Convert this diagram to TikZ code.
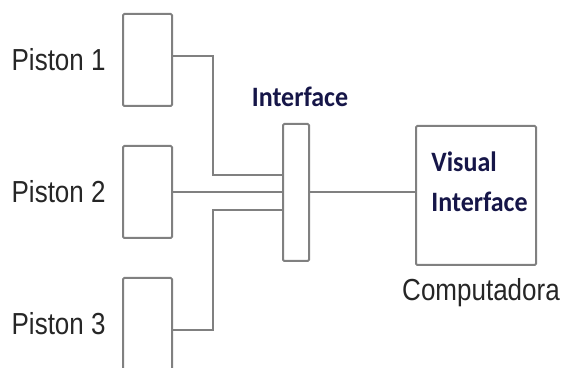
\documentclass[tikz,border=0pt]{standalone}
\usepackage{fontspec}
\setmainfont{Liberation Sans}
\newfontfamily\calibri{Carlito}
\usetikzlibrary{positioning}
\definecolor{linegray}{RGB}{128,128,128}
\definecolor{navytext}{RGB}{22,22,72}
\newcommand{\tallA}[1]{\scalebox{1}[1.17]{#1}}
\newcommand{\tallB}[1]{\scalebox{1}[1.08]{#1}}

\tikzset{
  box/.style={draw=linegray,line width=1pt,rounded corners=0.6pt,inner sep=0pt},
  pistonbox/.style={box,minimum width=24.5pt,minimum height=46pt},
  barbox/.style={box,minimum width=13pt,minimum height=68.5pt},
  compbox/.style={box,minimum width=60pt,minimum height=69.5pt},
  plabel/.style={font=\fontsize{13}{15}\selectfont,text=black!85,inner sep=0pt},
  blabel/.style={font=\calibri\bfseries\fontsize{13}{20}\selectfont,text=navytext,inner sep=0pt},
  wire/.style={draw=linegray,line width=1pt}
}

\begin{document}
\begin{tikzpicture}[x=0.5pt,y=-0.5pt]
  \useasboundingbox (0,0) rectangle (563,368);
  % pistones
  \node[pistonbox] (p1) at (147.5,60) {};
  \node[pistonbox] (p2) at (147.5,192) {};
  \node[pistonbox] (p3) at (147.5,324) {};
  \node[plabel,left=8pt of p1] (l1) {\tallA{Piston 1}};
  \node[plabel,left=8pt of p2] (l2) {\tallA{Piston 2}};
  \node[plabel,left=8pt of p3] (l3) {\tallA{Piston 3}};
  % interface
  \node[barbox] (bar) at (296,192.5) {};
  \node[blabel] (ilabel) at (300,97) {\tallB{Interface}};
  % computadora
  \node[compbox] (comp) at (476,195.5) {};
  \node[blabel,anchor=north west,align=left] (vis) at (431,151) {\tallB{Visual}\\\tallB{Interface}};
  \node[plabel] (clabel) at (481,293) {\tallA{Computadora}};
  % conexiones
  \coordinate (in1) at ([yshift=8.75pt]bar.west);
  \coordinate (in3) at ([yshift=-8.75pt]bar.west);
  \draw[wire] ([yshift=2pt]p1.east) -- ++(20pt,0) |- (in1);
  \draw[wire] (p2.east) -- (p2.east -| bar.west);
  \draw[wire] ([yshift=-3pt]p3.east) -- ++(20pt,0) |- (in3);
  \draw[wire] (bar.east |- p2.east) -- (p2.east -| comp.west);
\end{tikzpicture}
\end{document}
